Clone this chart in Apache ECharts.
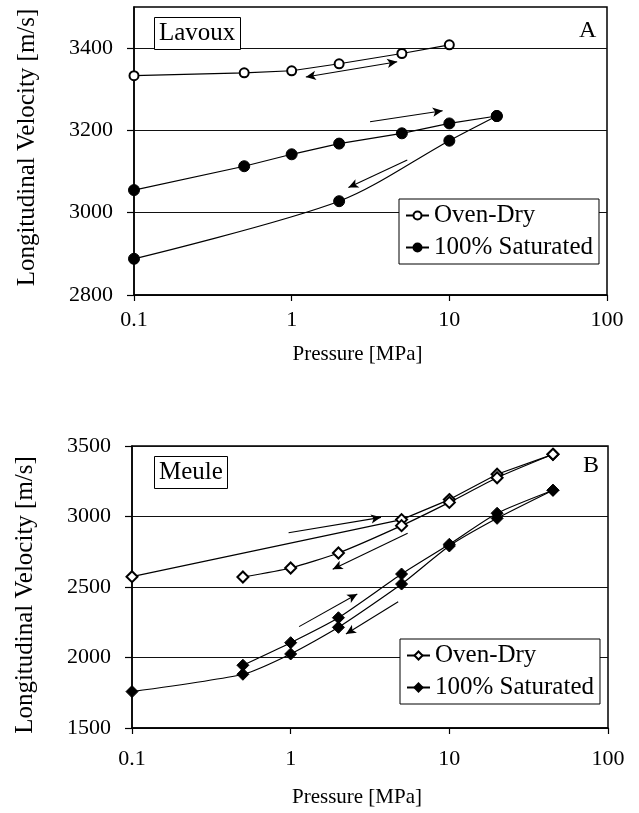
<!DOCTYPE html>
<html>
<head>
<meta charset="utf-8">
<script src="https://cdn.jsdelivr.net/npm/echarts@6/dist/echarts.min.js"></script>
<style>
  body { margin: 0; background: #fff; }
  #chartA { position: absolute; left: 0; top: 0; width: 639px; height: 406px; }
  #chartB { position: absolute; left: 0; top: 406px; width: 639px; height: 407px; }
</style>
</head>
<body>
<div id="chartA"></div>
<div id="chartB"></div>
<script>
// A - Lavoux
var lavDryP = [0.1, 0.5, 1, 2, 5, 10];
var lavDryV = [3333, 3340, 3345, 3362, 3387, 3408];
var lavSatUpP = [0.1, 0.5, 1, 2, 5, 10, 20];
var lavSatUpV = [3055, 3113, 3142, 3168, 3193, 3217, 3235];
var lavSatDownP = [20, 10, 2, 0.1];
var lavSatDownV = [3235, 3175, 3028, 2888];
var lavTicks = [2800, 3000, 3200, 3400];

// B - Meule
var meuDryUpP = [0.1, 5, 10, 20, 45];
var meuDryUpV = [2573, 2978, 3120, 3300, 3441];
var meuDryDownP = [45, 20, 10, 5, 2, 1, 0.5];
var meuDryDownV = [3441, 3275, 3100, 2935, 2741, 2635, 2571];
var meuSatUpP = [0.1, 0.5, 1, 2, 5, 10, 20, 45];
var meuSatUpV = [1758, 1881, 2025, 2214, 2521, 2791, 2987, 3186];
var meuSatDownP = [45, 20, 10, 5, 2, 1, 0.5];
var meuSatDownV = [3186, 3023, 2803, 2592, 2282, 2105, 1945];
var meuTicks = [1500, 2000, 2500, 3000, 3500];

// arrows: [fromP, fromV, toP, toV, doubleHeaded]
var lavArrows = [
  [1.23, 3330, 4.67, 3367, true],
  [3.14, 3221, 9.07, 3248, false],
  [5.41, 3128, 2.29, 3061, false]
];
var meuArrows = [
  [0.97, 2885, 3.71, 2994, false],
  [5.46, 2881, 1.84, 2626, false],
  [1.13, 2219, 2.63, 2450, false],
  [4.76, 2396, 2.23, 2167, false]
];

var FONT = "'Liberation Serif', 'Times New Roman', serif";

function pairs(p, v) {
  return p.map(function (x, i) { return [x, v[i]]; });
}

function lineSeries(name, p, v, symbol, size, smooth) {
  return {
    type: 'line', name: name, data: pairs(p, v),
    symbol: symbol, symbolSize: size, smooth: smooth,
    itemStyle: { color: '#000', borderColor: '#000', borderWidth: 1 },
    lineStyle: { color: '#000', width: 1.2 },
    emphasis: { disabled: true }
  };
}

function arrowSeries(list) {
  return {
    type: 'line', name: 'arrows', data: [], silent: true,
    markLine: {
      silent: true, animation: false,
      symbolSize: [7, 10],
      label: { show: false },
      lineStyle: { color: '#000', width: 1.1, type: 'solid' },
      data: list.map(function (a) {
        return [
          { coord: [a[0], a[1]], symbol: a[4] ? 'arrow' : 'none' },
          { coord: [a[2], a[3]], symbol: 'arrow' }
        ];
      })
    }
  };
}

function buildOption(c) {
  return {
    animation: false,
    textStyle: { fontFamily: FONT, color: '#000' },
    title: [
      { text: c.label, left: c.labelLeft, top: c.labelTop, padding: [4, 5],
        borderColor: '#000', borderWidth: 1, backgroundColor: '#fff',
        textStyle: { fontFamily: FONT, fontSize: 25, fontWeight: 'normal', color: '#000' } },
      { text: c.letter, left: c.letterLeft, top: c.letterTop, padding: 0,
        textStyle: { fontFamily: FONT, fontSize: 24, fontWeight: 'normal', color: '#000' } }
    ],
    legend: {
      data: ['Oven-Dry', '100% Saturated'], orient: 'vertical',
      left: c.legLeft, top: c.legTop, padding: [4, 6, 4, 6], itemGap: 7,
      itemWidth: 23, itemHeight: 10, backgroundColor: '#fff',
      borderColor: '#000', borderWidth: 1, selectedMode: false,
      textStyle: { fontFamily: FONT, fontSize: 25, color: '#000' }
    },
    grid: { left: c.gl, top: c.gt, width: c.gw, height: c.gh, show: true,
      borderColor: '#000', borderWidth: 1.5, backgroundColor: 'transparent' },
    xAxis: {
      type: 'log', logBase: 10, min: 0.1, max: 100,
      name: 'Pressure [MPa]', nameLocation: 'middle', nameGap: c.xNameGap,
      nameTextStyle: { fontFamily: FONT, fontSize: 21, color: '#000', padding: [0, 26, 0, 0] },
      axisLine: { lineStyle: { color: '#000', width: 1.5 } },
      axisTick: { inside: false, length: 6, lineStyle: { color: '#000', width: 1.2 } },
      minorTick: { show: false },
      splitLine: { show: false },
      axisLabel: { fontFamily: FONT, fontSize: 22, color: '#000', margin: c.xMargin }
    },
    yAxis: {
      type: 'value', min: c.ymin, max: c.ymax, interval: c.yint,
      name: 'Longitudinal Velocity [m/s]', nameLocation: 'middle', nameGap: 94,
      nameTextStyle: { fontFamily: FONT, fontSize: 25, color: '#000', padding: c.yNamePad },
      axisLine: { show: true, lineStyle: { color: '#000', width: 1.5 } },
      axisTick: { show: true, length: 7, customValues: c.yticks, lineStyle: { color: '#000', width: 1.2 } },
      splitLine: { show: true, lineStyle: { color: '#111', width: 1.2 } },
      axisLabel: { fontFamily: FONT, fontSize: 22, color: '#000', margin: 21, customValues: c.yticks,
        formatter: function (v) { return String(v); } }
    },
    series: c.series
  };
}

var chartA = echarts.init(document.getElementById('chartA'));
chartA.setOption(buildOption({
  label: 'Lavoux', labelLeft: 154, labelTop: 17,
  letter: 'A', letterLeft: 579, letterTop: 19,
  legLeft: 399, legTop: 199,
  gl: 134, gt: 7, gw: 473, gh: 288,
  xNameGap: 49, xMargin: 14, yNamePad: [0, 0, 0, 7],
  ymin: 2800, ymax: 3500, yint: 200, yticks: lavTicks,
  series: [
    lineSeries('Oven-Dry', lavDryP, lavDryV, 'emptyCircle', 9, false),
    lineSeries('100% Saturated', lavSatUpP, lavSatUpV, 'circle', 11, false),
    lineSeries('100% Saturated', lavSatDownP, lavSatDownV, 'circle', 11, 0.3),
    arrowSeries(lavArrows)
  ]
}));

var chartB = echarts.init(document.getElementById('chartB'));
chartB.setOption(buildOption({
  label: 'Meule', labelLeft: 154, labelTop: 50,
  letter: 'B', letterLeft: 583, letterTop: 48,
  legLeft: 400, legTop: 233,
  gl: 132, gt: 40, gw: 476, gh: 282,
  xNameGap: 59, xMargin: 20, yNamePad: [0, 16, 0, 0],
  ymin: 1500, ymax: 3500, yint: 500, yticks: meuTicks,
  series: [
    lineSeries('Oven-Dry', meuDryUpP, meuDryUpV, 'emptyDiamond', 11, false),
    lineSeries('Oven-Dry', meuDryDownP, meuDryDownV, 'emptyDiamond', 11, 0.2),
    lineSeries('100% Saturated', meuSatUpP, meuSatUpV, 'diamond', 12, 0.2),
    lineSeries('100% Saturated', meuSatDownP, meuSatDownV, 'diamond', 12, 0.2),
    arrowSeries(meuArrows)
  ]
}));
</script>
</body>
</html>
